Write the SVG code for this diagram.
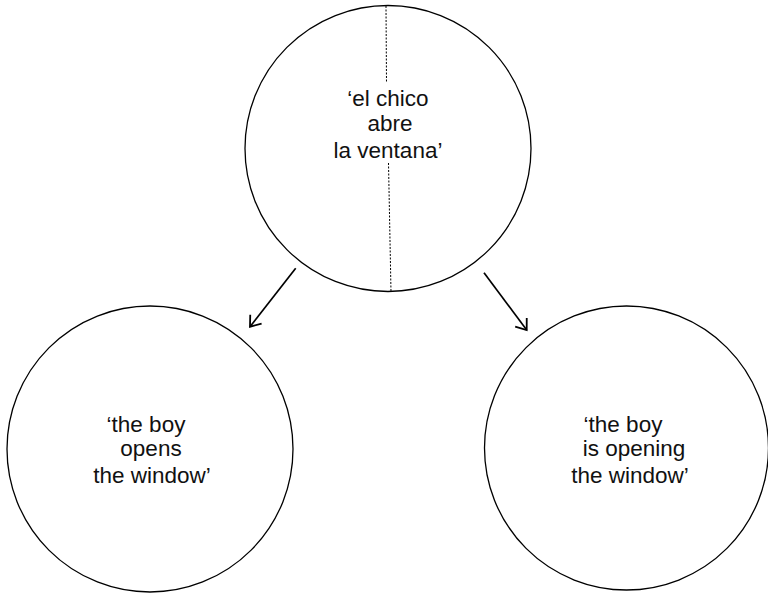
<svg xmlns="http://www.w3.org/2000/svg" width="768" height="593" viewBox="0 0 768 593">
<style>
.node{fill:#fff;stroke:#000;stroke-width:1.3}
.lbl{font-family:"Liberation Sans",Arial,sans-serif;font-size:22.5px;fill:#111;text-anchor:middle}
.div{stroke:#000;stroke-width:1;stroke-dasharray:2 1.5;fill:none}
.conn{stroke:#000;stroke-width:1.7;fill:none}
</style>
<defs>
<marker id="arr" markerUnits="userSpaceOnUse" viewBox="-2 -10 14 20" markerWidth="14" markerHeight="20" refX="9.6" refY="0" orient="auto">
<path d="M0,-7.2 L9.6,0 L0,7.2" fill="none" stroke="#000" stroke-width="1.8"/>
</marker>
</defs>
<rect width="768" height="593" fill="#fff"/>
<g id="source">
<circle class="node" cx="388" cy="148.5" r="143"/>
<path class="div" d="M386,6 L386.5,83"/>
<path class="div" d="M388.5,163 L391,292"/>
<text class="lbl" x="388" y="106">‘el chico</text>
<text class="lbl" x="390" y="131">abre</text>
<text class="lbl" x="388" y="158">la ventana’</text>
</g>
<g id="simple">
<circle class="node" cx="150" cy="449" r="143"/>
<text class="lbl" x="146" y="432">‘the boy</text>
<text class="lbl" x="151" y="456">opens</text>
<text class="lbl" x="152" y="483">the window’</text>
</g>
<g id="progressive">
<circle class="node" cx="626.5" cy="448" r="142"/>
<text class="lbl" x="623" y="432">‘the boy</text>
<text class="lbl" x="634" y="456">is opening</text>
<text class="lbl" x="630" y="483">the window’</text>
</g>
<g id="connectors">
<line class="conn" x1="295.7" y1="268.3" x2="250" y2="326.7" marker-end="url(#arr)"/>
<line class="conn" x1="484" y1="272.7" x2="526.7" y2="330" marker-end="url(#arr)"/>
</g>
</svg>
